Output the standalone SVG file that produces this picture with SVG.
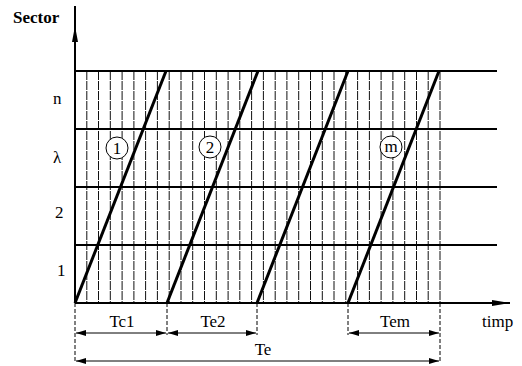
<svg xmlns="http://www.w3.org/2000/svg" width="522" height="366" viewBox="0 0 522 366" font-family="'Liberation Serif', 'DejaVu Serif', serif">
<style>
text{font-family:'Liberation Serif','DejaVu Serif',serif;fill:#000}
.lbl{font-size:17px}
.hatch{stroke:#111;stroke-width:1;stroke-dasharray:9 1;fill:none}
.grid{stroke:#000;stroke-width:2;fill:none}
.ramp{stroke:#000;stroke-width:3;fill:none}
.ext{stroke:#000;stroke-width:1;stroke-dasharray:4 2;fill:none}
.dim{stroke:#000;stroke-width:1;fill:none;marker-start:url(#arrS);marker-end:url(#arrE)}
.circ{stroke:#000;stroke-width:1;fill:#fff}
</style>
<defs>
<marker id="arrE" viewBox="0 0 10 6" refX="10" refY="3" markerWidth="10" markerHeight="6" markerUnits="userSpaceOnUse" orient="auto"><path d="M0,0 L10,3 L0,6 Z" fill="#000"/></marker>
<marker id="arrS" viewBox="0 0 10 6" refX="0" refY="3" markerWidth="10" markerHeight="6" markerUnits="userSpaceOnUse" orient="auto"><path d="M10,0 L0,3 L10,6 Z" fill="#000"/></marker>
</defs>
<rect width="522" height="366" fill="#fff"/>
<g id="hatching">
<path class="hatch" d="M86.8,71V303M98.5,71V303M110.3,71V303M122.1,71V303M133.9,71V303M145.6,71V303M157.4,71V303M169.2,71V303M181,71V303M192.7,71V303M204.5,71V303M216.3,71V303M228.1,71V303M239.8,71V303M251.6,71V303M263.4,71V303M275.2,71V303M286.9,71V303M298.7,71V303M310.5,71V303M322.3,71V303M334,71V303M345.8,71V303M357.6,71V303M369.4,71V303M381.1,71V303M392.9,71V303M404.7,71V303M416.5,71V303M428.2,71V303M440,71V303"/>
</g>
<g id="grid">
<path class="grid" d="M75,71H497M75,129H497M75,187H497M75,245H497"/>
</g>
<g id="axes">
<line x1="75" y1="303" x2="75" y2="6" stroke="#000" stroke-width="2"/>
<path d="M72,42 L75,26 L78,42 Z" fill="#000"/>
<line x1="75" y1="303" x2="510" y2="303" stroke="#000" stroke-width="2"/>
<path d="M492,300 L510,303 L492,306 Z" fill="#000"/>
<text x="13" y="23" class="lbl" font-weight="bold">Sector</text>
<text x="482" y="327" class="lbl">timp</text>
<text x="53" y="104" class="lbl">n</text>
<text x="53" y="163" class="lbl">λ</text>
<text x="55" y="218" class="lbl">2</text>
<text x="57" y="276" class="lbl">1</text>
</g>
<g id="ramps">
<line class="ramp" x1="75" y1="303" x2="166" y2="71"/>
<line class="ramp" x1="167" y1="303" x2="258" y2="71"/>
<line class="ramp" x1="257" y1="303" x2="348" y2="71"/>
<line class="ramp" x1="348" y1="303" x2="439" y2="71"/>
</g>
<g id="label-1"><circle class="circ" cx="117" cy="148" r="11"/><text x="117" y="154" class="lbl" text-anchor="middle">1</text></g>
<g id="label-2"><circle class="circ" cx="210" cy="147" r="11"/><text x="210" y="153" class="lbl" text-anchor="middle">2</text></g>
<g id="label-m"><circle class="circ" cx="391" cy="147" r="11"/><text x="391" y="152" class="lbl" text-anchor="middle">m</text></g>
<g id="connectors">
<path class="ext" d="M75,303V362M167,303V335M257,303V335M348,303V335M440,303V363"/>
<line class="dim" x1="76" y1="333" x2="166" y2="333"/>
<line class="dim" x1="168" y1="333" x2="256" y2="333"/>
<line class="dim" x1="349" y1="333" x2="439" y2="333"/>
<line class="dim" x1="76" y1="361" x2="439" y2="361"/>
</g>
<g id="dims">
<text x="122" y="327" class="lbl" text-anchor="middle">Tc1</text>
<text x="213" y="327" class="lbl" text-anchor="middle">Te2</text>
<text x="395" y="327" class="lbl" text-anchor="middle">Tem</text>
<text x="263" y="355" class="lbl" text-anchor="middle">Te</text>
</g>
</svg>
